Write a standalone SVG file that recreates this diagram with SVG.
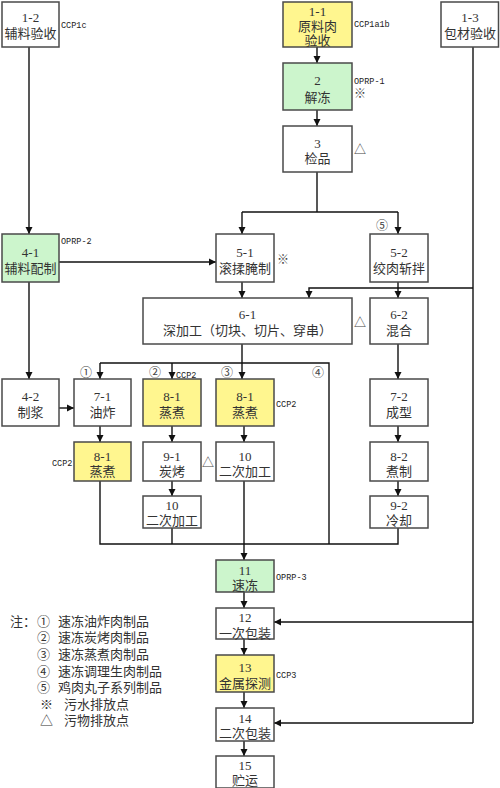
<svg xmlns="http://www.w3.org/2000/svg" width="500" height="788" viewBox="0 0 500 788">
<style>
.b{fill:#fff;stroke:#4a4a4a;stroke-width:1.5}
.y{fill:#fff68f}
.g{fill:#ccf5cc}
.t{font-family:"Liberation Serif","Noto Sans CJK SC",serif;font-size:13px;fill:#333;text-anchor:middle}
.m{font-family:"Liberation Mono",monospace;font-size:8.5px;fill:#222}
.s{font-family:"Liberation Serif","Noto Sans CJK SC",serif;font-size:12px;fill:#444}
.l{font-family:"Liberation Serif","Noto Sans CJK SC",serif;font-size:13px;fill:#333}
.c line,.c polyline{stroke:#111;stroke-width:1.4;fill:none}
.a{marker-end:url(#ar)}
</style>
<defs>
<marker id="ar" markerUnits="userSpaceOnUse" markerWidth="8" markerHeight="8" refX="7" refY="4" orient="auto">
<path d="M0,0.5 L7,4 L0,7.5 z" fill="#111"/>
</marker>
</defs>
<g class="c" id="connectors">
<line class="a" x1="317" y1="47" x2="317" y2="63"/>
<line class="a" x1="317" y1="110" x2="317" y2="126"/>
<polyline points="317,172 317,212"/>
<polyline points="242,212 398,212"/>
<line class="a" x1="242" y1="212" x2="242" y2="234"/>
<line class="a" x1="398" y1="212" x2="398" y2="234"/>
<line class="a" x1="29" y1="47" x2="29" y2="234"/>
<line class="a" x1="59" y1="262" x2="216" y2="262"/>
<polyline points="473,47 473,723"/>
<polyline class="a" points="473,288 309,288 309,298"/>
<line class="a" x1="473" y1="622" x2="274" y2="622"/>
<line class="a" x1="473" y1="723" x2="274" y2="723"/>
<line class="a" x1="242" y1="282" x2="242" y2="298"/>
<line class="a" x1="398" y1="282" x2="398" y2="298"/>
<polyline points="242,344 242,363"/>
<polyline points="100,363 329,363 329,544"/>
<line class="a" x1="100" y1="363" x2="100" y2="379"/>
<line class="a" x1="172" y1="363" x2="172" y2="379"/>
<line class="a" x1="242" y1="363" x2="242" y2="379"/>
<line class="a" x1="29" y1="282" x2="29" y2="379"/>
<line class="a" x1="59" y1="408" x2="74" y2="408"/>
<line class="a" x1="100" y1="426" x2="100" y2="442"/>
<line class="a" x1="172" y1="426" x2="172" y2="442"/>
<line class="a" x1="172" y1="481" x2="172" y2="496"/>
<line class="a" x1="244" y1="426" x2="244" y2="442"/>
<line class="a" x1="398" y1="344" x2="398" y2="379"/>
<line class="a" x1="398" y1="426" x2="398" y2="442"/>
<line class="a" x1="398" y1="481" x2="398" y2="496"/>
<polyline points="100,481 100,544 398,544 398,528"/>
<polyline points="172,528 172,544"/>
<line class="a" x1="244" y1="481" x2="244" y2="560"/>
<line class="a" x1="244" y1="592" x2="244" y2="608"/>
<line class="a" x1="244" y1="639" x2="244" y2="655"/>
<line class="a" x1="244" y1="692" x2="244" y2="708"/>
<line class="a" x1="244" y1="741" x2="244" y2="756"/>
</g>
<g id="n1-2"><rect class="b" x="2" y="2" width="57" height="45"/><text class="t" x="30.5" y="21.5">1-2</text><text class="t" x="30.5" y="38">辅料验收</text><text class="m" x="61" y="28">CCP1c</text></g>
<g id="n1-1"><rect class="b y" x="283" y="2" width="69" height="45"/><text class="t" x="317.5" y="15.5">1-1</text><text class="t" x="317.5" y="30.5">原料肉</text><text class="t" x="317.5" y="45">验收</text><text class="m" x="354" y="27">CCP1a1b</text></g>
<g id="n1-3"><rect class="b" x="441" y="2" width="57.5" height="45"/><text class="t" x="470" y="21.5">1-3</text><text class="t" x="470" y="38">包材验收</text></g>
<g id="n2"><rect class="b g" x="283" y="63" width="69" height="47"/><text class="t" x="317.5" y="84.5">2</text><text class="t" x="317.5" y="101.5">解冻</text><text class="m" x="354" y="84">OPRP-1</text><text class="s" x="354" y="98">※</text></g>
<g id="n3"><rect class="b" x="283" y="126" width="69" height="46"/><text class="t" x="317.5" y="147.5">3</text><text class="t" x="317.5" y="162.5">检品</text><text class="s" x="354" y="154">△</text></g>
<g id="n4-1"><rect class="b g" x="2" y="234" width="57" height="48"/><text class="t" x="30.5" y="256.5">4-1</text><text class="t" x="30.5" y="272.5">辅料配制</text><text class="m" x="61" y="244">OPRP-2</text></g>
<g id="n5-1"><rect class="b" x="216" y="234" width="58" height="48"/><text class="t" x="245" y="256.5">5-1</text><text class="t" x="245" y="272.5">滚揉腌制</text><text class="s" x="277" y="264">※</text></g>
<g id="n5-2"><rect class="b" x="370" y="234" width="58" height="48"/><text class="t" x="399" y="256.5">5-2</text><text class="t" x="399" y="272.5">绞肉斩拌</text><text class="s" x="376" y="230">⑤</text></g>
<g id="n6-1"><rect class="b" x="143" y="298" width="209" height="46"/><text class="t" x="247.5" y="318.5">6-1</text><text class="t" x="247.5" y="334.5">深加工（切块、切片、穿串）</text><text class="s" x="354" y="327">△</text></g>
<g id="n6-2"><rect class="b" x="370" y="298" width="58" height="46"/><text class="t" x="399" y="318.5">6-2</text><text class="t" x="399" y="334.5">混合</text></g>
<g id="n4-2"><rect class="b" x="2" y="379" width="57" height="47"/><text class="t" x="30.5" y="400.5">4-2</text><text class="t" x="30.5" y="416.5">制浆</text></g>
<g id="n7-1"><rect class="b" x="74" y="379" width="57" height="47"/><text class="t" x="102.5" y="400.5">7-1</text><text class="t" x="102.5" y="416.5">油炸</text><text class="s" x="80" y="377">①</text></g>
<g id="n8-1a"><rect class="b y" x="143" y="379" width="58" height="47"/><text class="t" x="172" y="400.5">8-1</text><text class="t" x="172" y="416.5">蒸煮</text><text class="s" x="149" y="377">②</text><text class="m" x="176" y="378">CCP2</text></g>
<g id="n8-1b"><rect class="b y" x="216" y="379" width="58" height="47"/><text class="t" x="245" y="400.5">8-1</text><text class="t" x="245" y="416.5">蒸煮</text><text class="s" x="221" y="377">③</text><text class="s" x="312" y="377">④</text><text class="m" x="276" y="407">CCP2</text></g>
<g id="n8-1c"><rect class="b y" x="74" y="442" width="57" height="39"/><text class="t" x="102.5" y="460.5">8-1</text><text class="t" x="102.5" y="475.5">蒸煮</text><text class="m" x="52" y="466">CCP2</text></g>
<g id="n9-1"><rect class="b" x="143" y="442" width="58" height="39"/><text class="t" x="172" y="460.5">9-1</text><text class="t" x="172" y="475.5">炭烤</text><text class="s" x="202" y="467">△</text></g>
<g id="n10a"><rect class="b" x="143" y="496" width="58" height="32"/><text class="t" x="172" y="509.5">10</text><text class="t" x="172" y="524.5">二次加工</text></g>
<g id="n10b"><rect class="b" x="216" y="442" width="58" height="39"/><text class="t" x="245" y="460.5">10</text><text class="t" x="245" y="475.5">二次加工</text></g>
<g id="n7-2"><rect class="b" x="370" y="379" width="58" height="47"/><text class="t" x="399" y="400.5">7-2</text><text class="t" x="399" y="416.5">成型</text></g>
<g id="n8-2"><rect class="b" x="370" y="442" width="58" height="39"/><text class="t" x="399" y="460.5">8-2</text><text class="t" x="399" y="475.5">煮制</text></g>
<g id="n9-2"><rect class="b" x="370" y="496" width="58" height="32"/><text class="t" x="399" y="509.5">9-2</text><text class="t" x="399" y="524.5">冷却</text></g>
<g id="n11"><rect class="b g" x="216" y="560" width="58" height="32"/><text class="t" x="245" y="574.5">11</text><text class="t" x="245" y="590">速冻</text><text class="m" x="276" y="580">OPRP-3</text></g>
<g id="n12"><rect class="b" x="216" y="608" width="58" height="31"/><text class="t" x="245" y="621.5">12</text><text class="t" x="245" y="637.5">一次包装</text></g>
<g id="n13"><rect class="b y" x="216" y="655" width="58" height="37"/><text class="t" x="245" y="671.5">13</text><text class="t" x="245" y="687.5">金属探测</text><text class="m" x="276" y="678">CCP3</text></g>
<g id="n14"><rect class="b" x="216" y="708" width="58" height="33"/><text class="t" x="245" y="722.5">14</text><text class="t" x="245" y="738">二次包装</text></g>
<g id="n15"><rect class="b" x="216" y="756" width="58" height="32"/><text class="t" x="245" y="769.5">15</text><text class="t" x="245" y="785">贮运</text></g>
<g id="legend">
<text class="l" x="10" y="625.5">注：</text>
<text class="l" x="37" y="625.5">①</text><text class="l" x="58" y="625.5">速冻油炸肉制品</text>
<text class="l" x="37" y="642">②</text><text class="l" x="58" y="642">速冻炭烤肉制品</text>
<text class="l" x="37" y="658.5">③</text><text class="l" x="58" y="658.5">速冻蒸煮肉制品</text>
<text class="l" x="37" y="675.5">④</text><text class="l" x="58" y="675.5">速冻调理生肉制品</text>
<text class="l" x="37" y="692">⑤</text><text class="l" x="58" y="692">鸡肉丸子系列制品</text>
<text class="l" x="40" y="708.5">※</text><text class="l" x="64" y="708.5">污水排放点</text>
<text class="l" x="40" y="725">△</text><text class="l" x="64" y="725">污物排放点</text>
</g>
</svg>
